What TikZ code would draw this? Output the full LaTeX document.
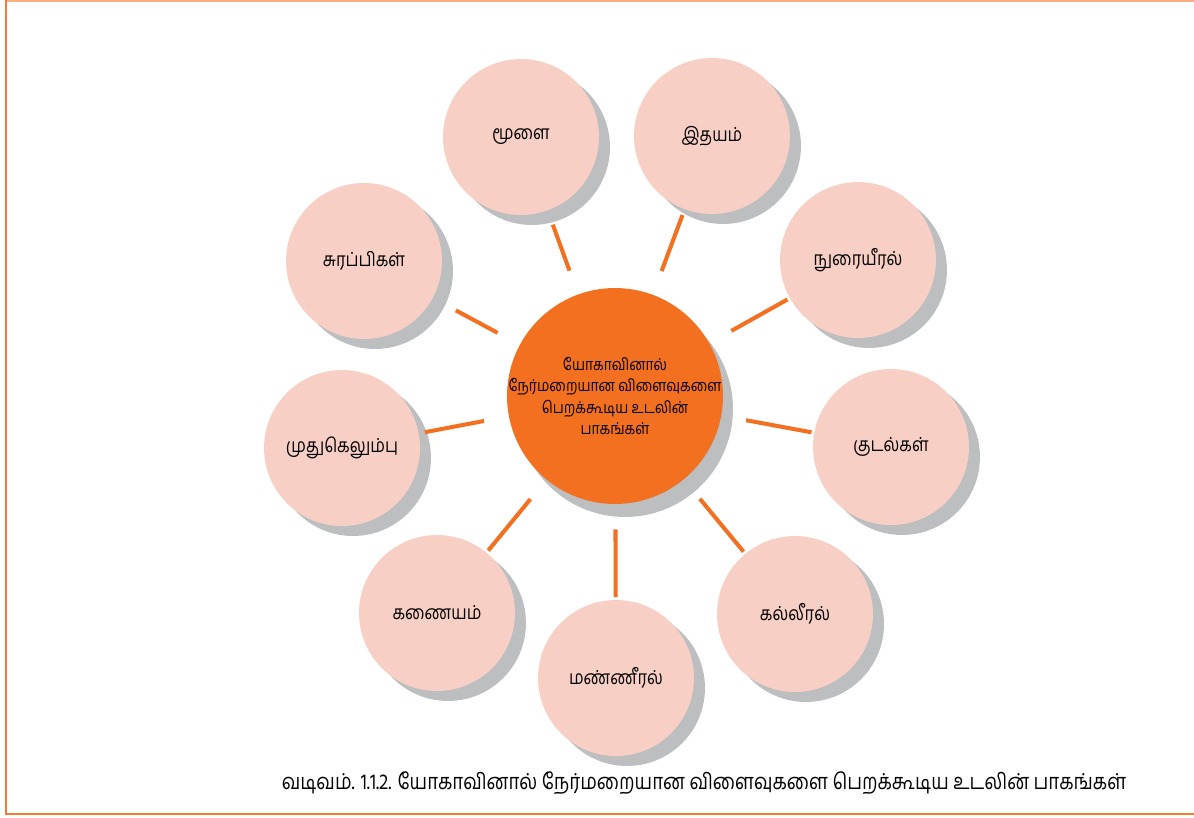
\documentclass[tikz,border=0pt]{standalone}
\usepackage{fontspec}
\setmainfont[Script=Tamil,FakeStretch=0.85]{Hind Madurai}
\usepackage{tikz}
\usetikzlibrary{shadows}

\definecolor{hubOrange}{HTML}{F37021}
\definecolor{partPink}{HTML}{F8CFC5}
\definecolor{shadowGray}{HTML}{BCBEC0}
\definecolor{frameOrange}{HTML}{F47B2F}
\definecolor{framePeach}{HTML}{F9AE80}

\begin{document}
\begin{tikzpicture}[x=0.02cm,y=-0.02cm,
		hub/.style={circle,fill=hubOrange,minimum size=4.32cm,inner sep=-8pt,align=center,
			font=\fontsize{9.3}{12}\selectfont,
			general shadow={fill=shadowGray,shadow xshift=0.2cm,shadow yshift=-0.26cm}},
		part/.style={circle,fill=partPink,minimum size=3.12cm,inner sep=-8pt,
			font=\fontsize{11}{14}\selectfont,
			general shadow={fill=shadowGray,shadow xshift=0.22cm,shadow yshift=-0.2cm}},
		link/.style={draw=hubOrange,line width=2.3pt,shorten <=0.5cm,shorten >=0.05cm}]
		\useasboundingbox (0,0) rectangle (1194,818);

		% Frame
		\draw[line width=1.2pt,framePeach] (6,1) -- (1194,1);
		\draw[line width=1.6pt,frameOrange] (6,0) -- (6,814) -- (1194,814);

		% Centre
		\node[hub] (hub) at (615,396) {யோகாவினால்\\நேர்மறையான விளைவுகளை\\பெறக்கூடிய உடலின்\\பாகங்கள்};

		% Body parts
		\node[part] (brain) at (521,137) {மூளை};
		\node[part] (heart) at (712,136) {இதயம்};
		\node[part] (lungs) at (858,260) {நுரையீரல்};
		\node[part] (gut) at (891,447) {குடல்கள்};
		\node[part] (liver) at (795,614) {கல்லீரல்};
		\node[part] (spleen) at (616,678) {மண்ணீரல்};
		\node[part] (pancreas) at (437,613) {கணையம்};
		\node[part] (spine) at (342,448) {முதுகெலும்பு};
		\node[part] (glands) at (364,261) {சுரப்பிகள்};

		% Links
		\draw[link,shorten >=0.3cm] (hub) -- (brain);
		\draw[link,shorten >=0.12cm] (hub) -- (heart);
		\draw[link] (hub) -- (lungs);
		\draw[link] (hub) -- (gut);
		\draw[link] (hub) -- (liver);
		\draw[link] (hub) -- (spleen);
		\draw[link] (hub) -- (pancreas);
		\draw[link,shorten >=0.12cm] (hub) -- (spine);
		\draw[link,shorten >=0.52cm] (hub) -- (glands);

		% Caption
		\node[font=\fontsize{12.5}{15}\selectfont] (caption) at (704,783) {வடிவம். 1.1.2. யோகாவினால் நேர்மறையான விளைவுகளை பெறக்கூடிய உடலின் பாகங்கள்};
	\end{tikzpicture}
\end{document}
